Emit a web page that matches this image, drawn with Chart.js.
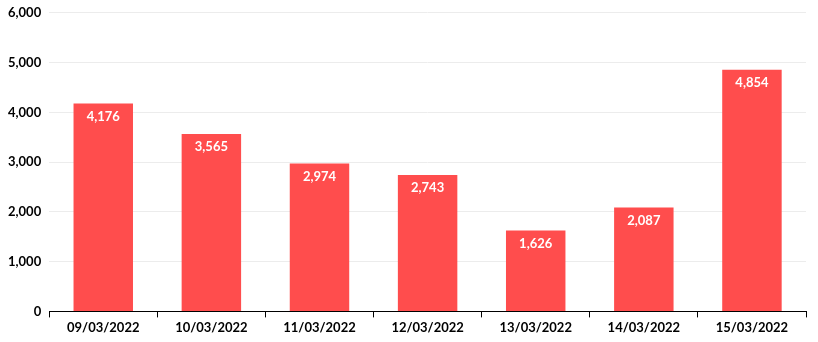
<!DOCTYPE html>
<html>
<head>
<meta charset="utf-8">
<script src="https://cdn.jsdelivr.net/npm/chart.js@4"></script>
<style>
  html, body { margin: 0; padding: 0; background: #fff; overflow: hidden; }
  #wrap { width: 818px; height: 345px; margin-top: -3px; }
</style>
</head>
<body>
<div id="wrap"><canvas id="salesChart"></canvas></div>
<script>
  // Datos.
  const dates = ['09/03/2022', '10/03/2022', '11/03/2022', '12/03/2022', '13/03/2022', '14/03/2022', '15/03/2022'];
  const totals = [4176, 3565, 2974, 2743, 1626, 2087, 4854];
  const yTicks = [0, 1000, 2000, 3000, 4000, 5000, 6000];

  const barColor = '#FF4D4D';
  const fontFamily = 'Lato, "Open Sans", sans-serif';

  // Etiquetas blancas dentro de cada barra.
  const valueLabels = {
    id: 'valueLabels',
    afterDatasetsDraw(chart) {
      const ctx = chart.ctx;
      const meta = chart.getDatasetMeta(0);
      ctx.save();
      ctx.fillStyle = '#ffffff';
      ctx.font = 'bold 13px ' + fontFamily;
      ctx.textAlign = 'center';
      ctx.textBaseline = 'middle';
      meta.data.forEach(function (bar, i) {
        ctx.fillText(totals[i].toLocaleString('en-US'), bar.x, bar.y + 13);
      });
      ctx.restore();
    },
  };

  new Chart(document.getElementById('salesChart'), {
    type: 'bar',
    data: {
      labels: dates,
      datasets: [{
        data: totals,
        backgroundColor: barColor,
        barPercentage: 0.55,
        categoryPercentage: 1,
      }],
    },
    options: {
      responsive: true,
      maintainAspectRatio: false,
      animation: false,
      layout: { padding: { top: 0, right: 12, left: 0, bottom: 3 } },
      plugins: { legend: { display: false }, tooltip: { enabled: false } },
      scales: {
        x: {
          grid: {
            offset: true,
            drawOnChartArea: false,
            color: '#000',
            tickLength: 6,
          },
          border: { color: '#000', width: 1 },
          ticks: {
            color: '#000',
            font: { family: fontFamily, size: 13, weight: 'bold' },
            padding: 3,
            maxRotation: 0,
          },
        },
        y: {
          min: 0,
          max: 6000,
          afterBuildTicks: function (axis) {
            axis.ticks = yTicks.map(function (v) { return { value: v }; });
          },
          grid: { color: '#ececec', drawTicks: false },
          border: { display: false },
          ticks: {
            color: '#000',
            font: { family: fontFamily, size: 13, weight: 'bold' },
            padding: 8,
            callback: function (v) { return v.toLocaleString('en-US'); },
          },
        },
      },
    },
    plugins: [valueLabels],
  });
</script>
</body>
</html>
